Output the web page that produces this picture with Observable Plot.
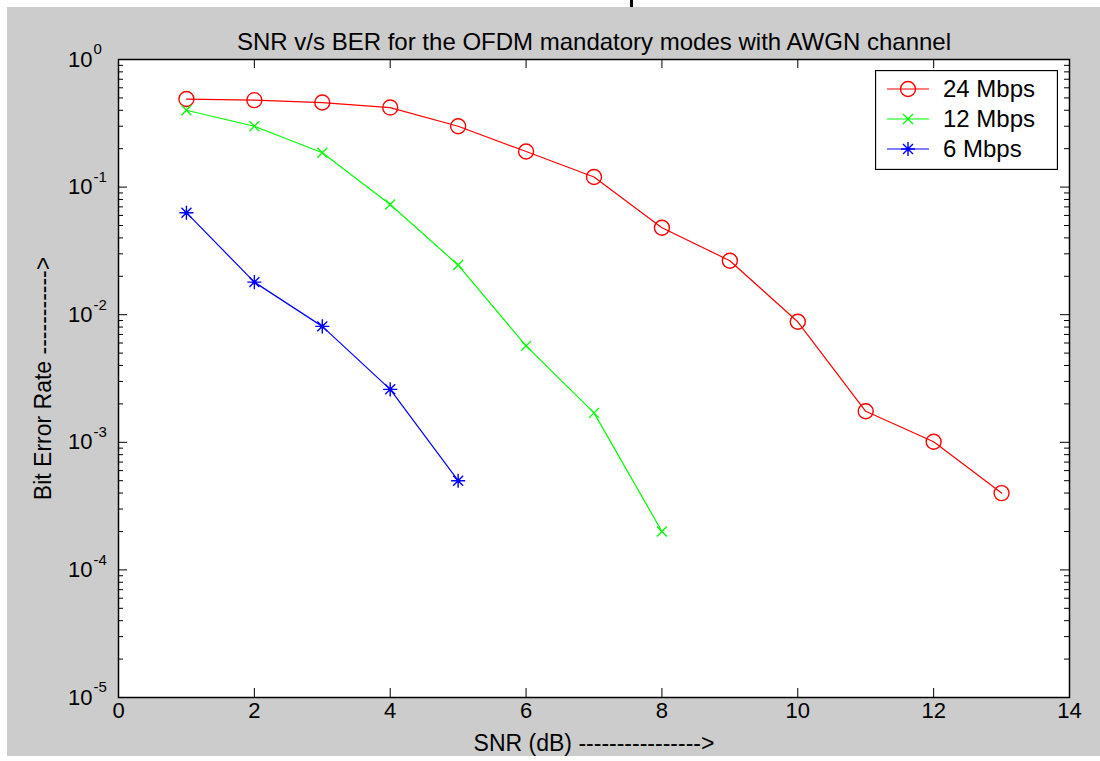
<!DOCTYPE html>
<html><head><meta charset="utf-8">
<script src="https://cdn.jsdelivr.net/npm/d3@7"></script>
<script src="https://cdn.jsdelivr.net/npm/@observablehq/plot@0.6"></script>
<style>
html,body{margin:0;padding:0;background:#fff;}
#wrap{position:relative;width:1100px;height:761px;overflow:hidden;font-family:"Liberation Sans",Arial,sans-serif;}
#bg{position:absolute;left:7px;top:7px;width:1093px;height:749px;background:#cccccc;}
#mark{position:absolute;left:630px;top:0;width:3px;height:7px;background:#000;}
#chart{position:absolute;left:0;top:0;}
#legend{position:absolute;left:875px;top:70px;}
</style></head><body>
<div id="wrap"><div id="bg"></div><div id="mark"></div><div id="chart"></div><div id="legend"></div></div>
<script>
// ---- data ----
const seriesNames = ["24 Mbps", "12 Mbps", "6 Mbps"];
const seriesColors = ["#ff0000", "#00ff00", "#0000ff"];
const snr24 = [1, 2, 3, 4, 5, 6, 7, 8, 9, 10, 11, 12, 13];
const ber24 = [0.49, 0.48, 0.46, 0.42, 0.30, 0.19, 0.12, 0.048, 0.0265, 0.0088, 0.00175, 0.00101, 0.0004];
const snr12 = [1, 2, 3, 4, 5, 6, 7, 8];
const ber12 = [0.40, 0.30, 0.186, 0.073, 0.0245, 0.0057, 0.0017, 0.0002];
const snr6 = [1, 2, 3, 4, 5];
const ber6 = [0.063, 0.018, 0.0081, 0.0026, 0.0005];
const xTicks = [0, 2, 4, 6, 8, 10, 12, 14];
const yExponents = [0, -1, -2, -3, -4, -5];
const titleText = "SNR v/s BER for the OFDM mandatory modes with AWGN channel";
const xLabelText = "SNR (dB) ---------------->";
const yLabelText = "Bit Error Rate ----------->";

// ---- build tables ----
const rows24 = snr24.map((x, i) => ({x, y: ber24[i], s: seriesNames[0]}));
const rows12 = snr12.map((x, i) => ({x, y: ber12[i], s: seriesNames[1]}));
const rows6 = snr6.map((x, i) => ({x, y: ber6[i], s: seriesNames[2]}));
const yMajor = yExponents.map(e => 10 ** e);
const yMinor = [];
for (const e of yExponents.slice(1)) for (let k = 2; k <= 9; k++) yMinor.push(k * 10 ** e);

const W = 1100, H = 761, ML = 118, MR = 31, MT = 59, MB = 64;
const IW = W - ML - MR, IH = H - MT - MB;
const font = "Liberation Sans, Arial, sans-serif";

const chart = Plot.plot({
  width: W, height: H,
  marginLeft: ML, marginRight: MR, marginTop: MT, marginBottom: MB,
  style: {background: "transparent", color: "black", fontFamily: font, fontSize: "22px"},
  x: {domain: [0, 14], axis: null},
  y: {type: "log", domain: [1e-5, 1], axis: null},
  color: {domain: seriesNames, range: seriesColors},
  marks: [
    Plot.frame({fill: "white", stroke: null}),
    // ticks (inward)
    Plot.tickX(xTicks, {x: d => d, insetTop: IH - 9, stroke: "black"}),
    Plot.tickX(xTicks, {x: d => d, insetBottom: IH - 9, stroke: "black"}),
    Plot.tickY(yMajor, {y: d => d, insetRight: IW - 9, stroke: "black"}),
    Plot.tickY(yMajor, {y: d => d, insetLeft: IW - 9, stroke: "black"}),
    Plot.tickY(yMinor, {y: d => d, insetRight: IW - 5, stroke: "black"}),
    Plot.tickY(yMinor, {y: d => d, insetLeft: IW - 5, stroke: "black"}),
    // lines
    Plot.line([...rows24, ...rows12, ...rows6], {x: "x", y: "y", z: "s", stroke: "s", strokeWidth: 1.2}),
    // markers
    Plot.dot(rows24, {x: "x", y: "y", r: 7.5, stroke: "s", fill: "none", strokeWidth: 1.4}),
    Plot.dot(rows12, {x: "x", y: "y", r: 4.6, symbol: "times", stroke: "s", strokeWidth: 1.3}),
    Plot.dot(rows6, {x: "x", y: "y", r: 4.6, symbol: "plus", stroke: "s", strokeWidth: 1.4}),
    Plot.dot(rows6, {x: "x", y: "y", r: 4.6, symbol: "times", stroke: "s", strokeWidth: 1.4}),
    Plot.dot(rows6, {x: "x", y: "y", r: 2.2, fill: "s", stroke: null}),
    Plot.frame({stroke: "black", strokeWidth: 1.5}),
    // tick labels
    Plot.text(xTicks, {x: d => d, frameAnchor: "bottom", dy: 20, text: d => String(d), fill: "black", fontSize: 22}),
    Plot.text(yExponents, {y: d => 10 ** d, frameAnchor: "left", dx: -26, textAnchor: "end", text: () => "10", fill: "black", fontSize: 22}),
    Plot.text(yExponents, {y: d => 10 ** d, frameAnchor: "left", dx: -25, dy: -10, textAnchor: "start", text: d => String(d), fill: "black", fontSize: 15}),
    // titles
    Plot.text([titleText], {frameAnchor: "top", dy: -27, textAnchor: "middle", text: d => d, fill: "black", fontSize: 24}),
    Plot.text([xLabelText], {frameAnchor: "bottom", dy: 53, textAnchor: "middle", text: d => d, fill: "black", fontSize: 23}),
    Plot.text([yLabelText], {frameAnchor: "left", dx: -75, rotate: -90, textAnchor: "middle", text: d => d, fill: "black", fontSize: 23})
  ]
});
document.getElementById("chart").appendChild(chart);

// ---- legend ----
const lw = 182, lh = 99;
const lsvg = d3.select("#legend").append("svg").attr("width", lw + 1).attr("height", lh + 1);
lsvg.append("rect").attr("x", 0.5).attr("y", 0.5).attr("width", lw).attr("height", lh)
  .attr("fill", "white").attr("stroke", "black").attr("stroke-width", 1.3);
seriesNames.forEach((name, i) => {
  const cy = 19 + i * 30, c = seriesColors[i];
  const g = lsvg.append("g");
  g.append("line").attr("x1", 12).attr("x2", 54).attr("y1", cy).attr("y2", cy).attr("stroke", c).attr("stroke-width", 1.2);
  if (i === 0) {
    g.append("circle").attr("cx", 33).attr("cy", cy).attr("r", 7.5).attr("fill", "none").attr("stroke", c).attr("stroke-width", 1.4);
  } else if (i === 1) {
    g.append("path").attr("transform", `translate(33,${cy})`).attr("d", d3.symbol(d3.symbolTimes, Math.PI * 4.6 * 4.6)()).attr("fill", "none").attr("stroke", c).attr("stroke-width", 1.3);
  } else {
    g.append("path").attr("transform", `translate(33,${cy})`).attr("d", d3.symbol(d3.symbolPlus, Math.PI * 4.6 * 4.6)()).attr("fill", "none").attr("stroke", c).attr("stroke-width", 1.4);
    g.append("path").attr("transform", `translate(33,${cy})`).attr("d", d3.symbol(d3.symbolTimes, Math.PI * 4.6 * 4.6)()).attr("fill", "none").attr("stroke", c).attr("stroke-width", 1.4);
    g.append("circle").attr("cx", 33).attr("cy", cy).attr("r", 2.2).attr("fill", c);
  }
  g.append("text").attr("x", 68).attr("y", cy).attr("dy", "0.35em").attr("font-family", font).attr("font-size", 24).attr("fill", "black").text(name);
});
</script>
</body></html>
